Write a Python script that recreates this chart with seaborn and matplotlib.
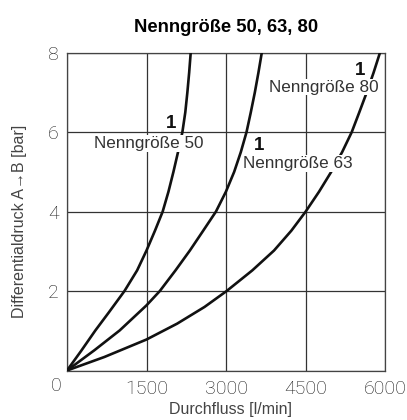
import pandas as pd
import numpy as np
import matplotlib
matplotlib.use("Agg")
import matplotlib.pyplot as plt
import seaborn as sns

# values
flow_50 = [0, 265, 536, 788, 1084, 1323, 1500, 1660, 1805, 1914, 2008, 2095, 2177, 2232, 2271, 2305, 2334]
dp_50 = [0, 0.49, 1.01, 1.46, 2.0, 2.52, 3.02, 3.52, 4.0, 4.5, 5.0, 5.5, 6.0, 6.5, 7.0, 7.5, 8.0]

flow_63 = [0, 517, 995, 1500, 1751, 2047, 2318, 2570, 2810, 2998, 3154, 3280, 3387, 3468, 3544, 3612, 3675]
dp_63 = [0, 0.51, 1.01, 1.64, 2.0, 2.52, 3.02, 3.52, 4.0, 4.5, 5.0, 5.5, 6.0, 6.5, 7.0, 7.5, 8.0]

flow_80 = [0, 705, 1500, 2079, 2595, 3011, 3496, 3906, 4233, 4503, 4755, 4985, 5192, 5372, 5515, 5655, 5785, 5905]
dp_80 = [0, 0.34, 0.78, 1.18, 1.6, 2.0, 2.52, 3.02, 3.52, 4.0, 4.5, 5.0, 5.5, 6.0, 6.5, 7.0, 7.5, 8.0]

sizes = ["50", "63", "80"]
x_ticks = [0, 1500, 3000, 4500, 6000]
y_ticks = [0, 2, 4, 6, 8]

df = pd.concat([
    pd.DataFrame({"flow": flow_50, "dp": dp_50, "size": "50"}),
    pd.DataFrame({"flow": flow_63, "dp": dp_63, "size": "63"}),
    pd.DataFrame({"flow": flow_80, "dp": dp_80, "size": "80"}),
])

sns.set_style("white")
plt.rcParams['font.family'] = ['Liberation Sans', 'DejaVu Sans']

fig = plt.figure(figsize=(4.07, 4.2), dpi=100)
ax = fig.add_axes([67 / 407, 49.5 / 420, 318 / 407, 317.8 / 420])

sns.lineplot(data=df, x="flow", y="dp", hue="size", palette=["#111111"] * 3,
             linewidth=1.9, legend=False, sort=False, ax=ax, zorder=3)

ax.set_xlim(0, 6000)
ax.set_ylim(0, 8)
ax.grid(True, color="#333333", linewidth=0.9)
for s in ax.spines.values():
    s.set_color("#444444")
    s.set_linewidth(0.9)

tick_font = ['Roboto', 'Liberation Sans']
tick_kw = dict(family=tick_font, fontweight="light", fontsize=14, color="#1a1a1a")
ax.set_xticks(x_ticks)
ax.set_xticklabels([""] + [str(t) for t in x_ticks[1:]], **tick_kw)
ax.set_yticks(y_ticks)
ax.set_yticklabels([""] + [str(t) for t in y_ticks[1:]], **tick_kw)
ax.tick_params(axis="both", length=2, width=0.8, color="#444444", pad=4)
ax.tick_params(axis="x", pad=5)
ax.annotate("0", xy=(0, 0), xycoords="axes fraction", xytext=(-7.5, -11),
            textcoords="offset points", ha="center", va="center", **tick_kw)

ax.set_xlabel("Durchfluss [l/min]", fontsize=11.5, color="#444444")
ax.xaxis.set_label_coords(0.513, -0.1)
ax.set_ylabel("Differentialdruck A→B [bar]", fontsize=11.5, color="#444444")
ax.yaxis.set_label_coords(-0.125, 0.47)

ax.set_title("Nenngröße 50, 63, 80", fontsize=13.2, fontweight="bold", pad=15, color="#000000")

box = dict(facecolor="white", edgecolor="none", pad=0.6)
ax.text(504, 5.6, "Nenngröße " + sizes[0], fontsize=12.3, color="#333333", va="baseline", bbox=box, zorder=4)
ax.text(3320, 5.09, "Nenngröße " + sizes[1], fontsize=12.3, color="#333333", va="baseline", bbox=box, zorder=4)
ax.text(3810, 7.02, "Nenngröße " + sizes[2], fontsize=12.3, color="#333333", va="baseline", bbox=box, zorder=4)
for xx, yy in [(1972, 6.1), (3618, 5.55), (5524, 7.44)]:
    ax.text(xx, yy, "1", fontsize=13.5, fontweight="bold", color="#111111",
            ha="center", va="baseline", zorder=4)

fig.savefig("out.png", dpi=100)
